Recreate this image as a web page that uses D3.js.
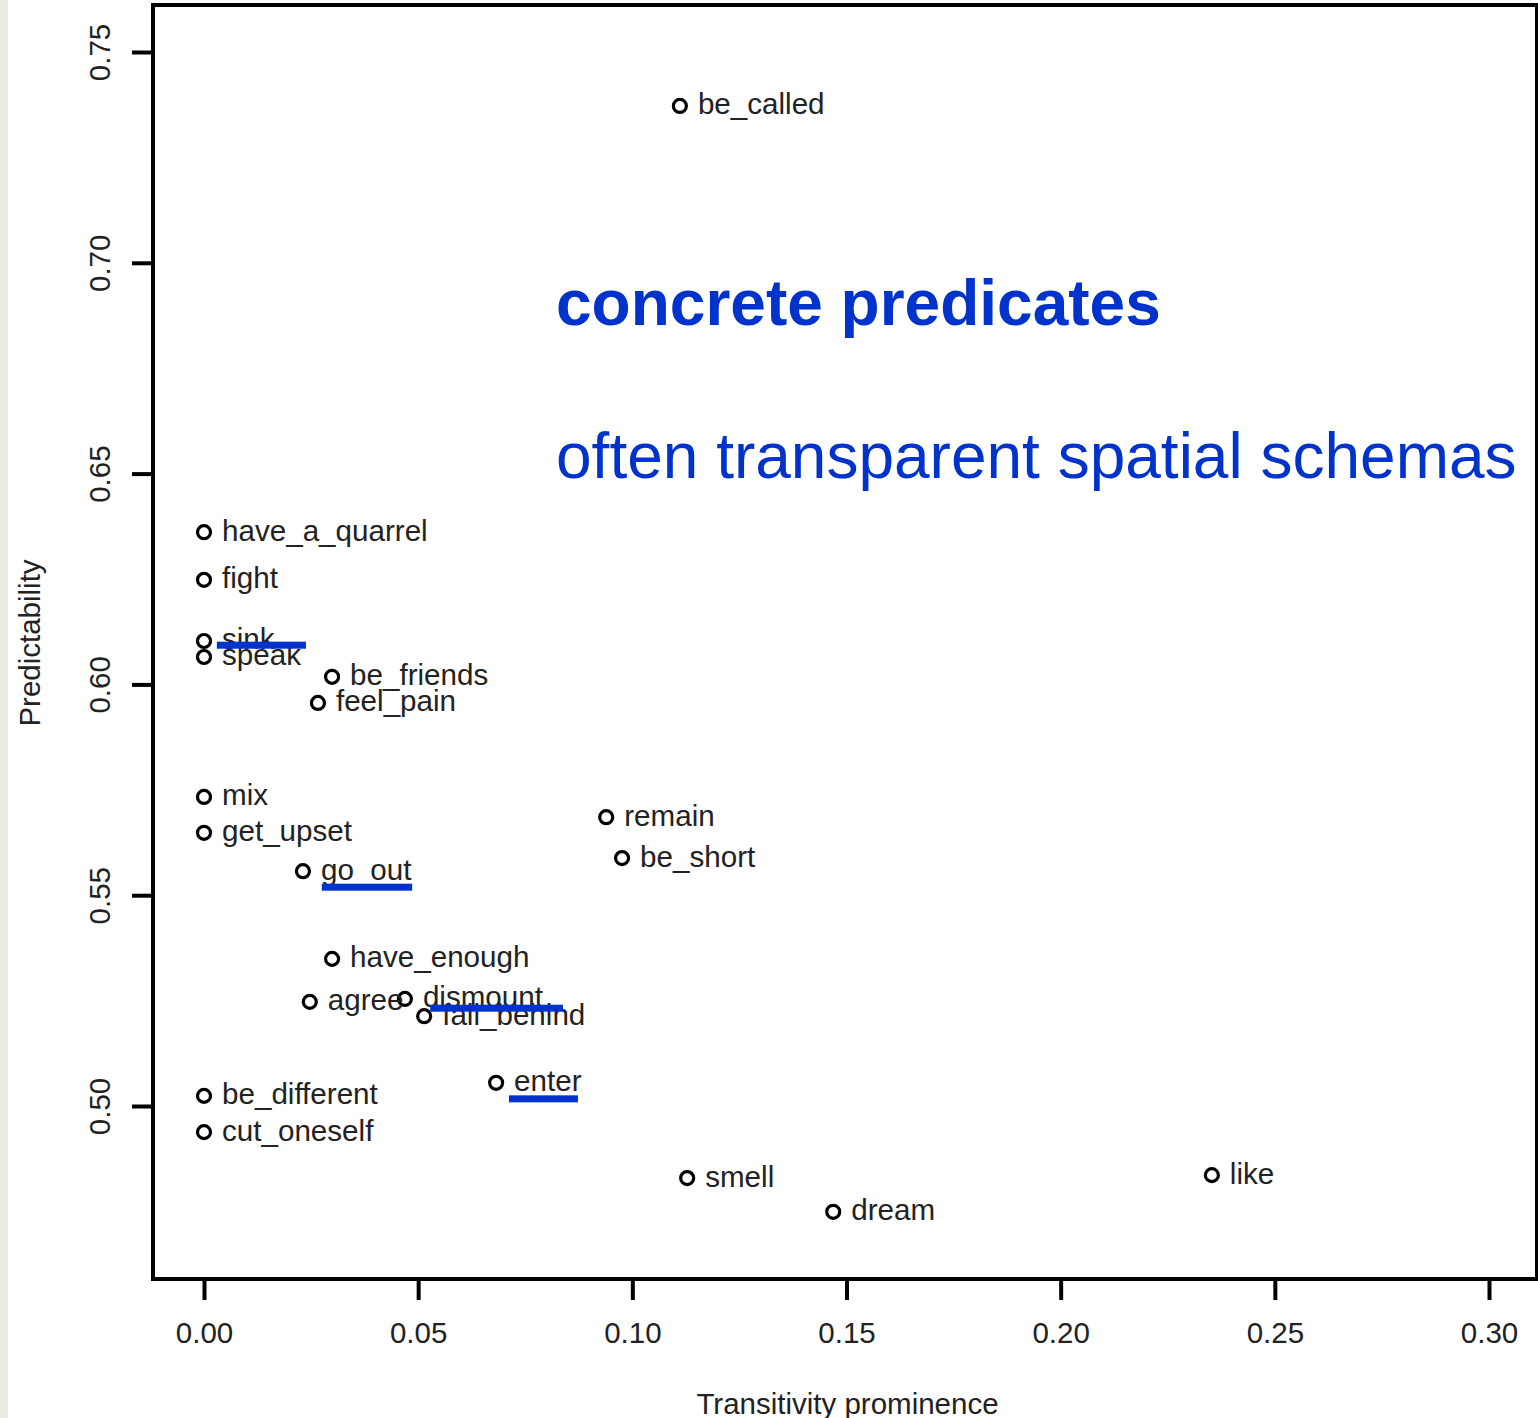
<!DOCTYPE html>
<html>
<head>
<meta charset="utf-8">
<script src="https://cdn.jsdelivr.net/npm/d3@7"></script>
<style>
  html, body { margin: 0; padding: 0; background: #fff; }
  svg { display: block; }
  text { font-family: "Liberation Sans", Arial, Helvetica, sans-serif; }
</style>
</head>
<body>
<svg id="chart" width="1538" height="1418"></svg>
<script>
// ---- data ----
const words = ["be_called","have_a_quarrel","fight","sink","speak","be_friends","feel_pain","mix","get_upset","go_out","remain","be_short","have_enough","agree","dismount","fall_behind","enter","be_different","cut_oneself","smell","dream","like"];
const transitivity = [0.1111,0,0,0,0,0.0299,0.0266,0,0,0.0231,0.0939,0.0976,0.0299,0.0247,0.0469,0.0514,0.0682,0,0,0.1128,0.1469,0.2353];
const predictability = [0.7372,0.6361,0.6248,0.6103,0.6065,0.6018,0.5956,0.5733,0.5648,0.5557,0.5685,0.5588,0.5349,0.5247,0.5254,0.5213,0.5055,0.5024,0.4938,0.4829,0.4749,0.4836];
const xTicks = [0.00,0.05,0.10,0.15,0.20,0.25,0.30];
const yTicks = [0.50,0.55,0.60,0.65,0.70,0.75];
// highlighted (underlined / struck) words: data-space extent of the blue bars
const markWords = ["sink","go_out","dismount","enter"];
const markX0 = [0.0030,0.0275,0.0528,0.0712];
const markX1 = [0.0238,0.0486,0.0838,0.0873];
const markY  = [0.6093,0.5519,0.5232,0.5017];
const annotations = ["concrete predicates","often transparent spatial schemas"];

const svg = d3.select("#chart");
const W = 1538, H = 1418;
const blue = "#0033cc";
const ink = "#222";

// background strip on the left
svg.append("rect").attr("x",0).attr("y",0).attr("width",W).attr("height",H).attr("fill","#fff");
svg.append("rect").attr("x",0).attr("y",0).attr("width",8).attr("height",H).attr("fill","#eeebe4");

const x = d3.scaleLinear().domain([0,0.30]).range([204,1489]);
const y = d3.scaleLinear().domain([0.50,0.75]).range([1106,52]);

const box = {left:153, top:5, right:1537, bottom:1279};

// frame
svg.append("rect")
  .attr("x",box.left).attr("y",box.top)
  .attr("width",box.right-box.left).attr("height",box.bottom-box.top)
  .attr("fill","none").attr("stroke","#000").attr("stroke-width",4);

// x axis
const xAxis = d3.axisBottom(x).tickValues(xTicks).tickFormat(d3.format(".2f")).tickSize(20).tickPadding(22);
const gx = svg.append("g").attr("transform",`translate(0,${box.bottom+1})`).call(xAxis);
gx.select(".domain").remove();
gx.selectAll(".tick line").attr("stroke","#000").attr("stroke-width",4);
gx.selectAll(".tick text").attr("font-size",29.5).attr("fill",ink)
  .attr("font-family","Liberation Sans, Arial, sans-serif");

// y axis
const yAxis = d3.axisLeft(y).tickValues(yTicks).tickFormat(d3.format(".2f")).tickSize(20).tickPadding(0);
const gy = svg.append("g").attr("transform",`translate(${box.left-1},0)`).call(yAxis);
gy.select(".domain").remove();
gy.selectAll(".tick line").attr("stroke","#000").attr("stroke-width",4);
gy.selectAll(".tick text")
  .attr("font-size",29.5).attr("fill",ink)
  .attr("font-family","Liberation Sans, Arial, sans-serif")
  .attr("x",null).attr("dy",null)
  .attr("text-anchor","middle")
  .attr("transform","translate(-42,0) rotate(-90)");

// axis titles
svg.append("text").attr("x",(x(0)+x(0.30))/2 + 1).attr("y",1414)
  .attr("text-anchor","middle").attr("font-size",29.5).attr("fill",ink)
  .text("Transitivity prominence");
svg.append("text").attr("transform",`translate(40,${643}) rotate(-90)`)
  .attr("text-anchor","middle").attr("font-size",29.5).attr("fill",ink)
  .text("Predictability");

// points
const pts = words.map((w,i)=>({w, tx:transitivity[i], py:predictability[i]}));
const g = svg.append("g");
g.selectAll("circle").data(pts).enter().append("circle")
  .attr("cx",d=>x(d.tx)).attr("cy",d=>y(d.py)).attr("r",6.5)
  .attr("fill","none").attr("stroke","#000").attr("stroke-width",3.2);
g.selectAll("text").data(pts).enter().append("text")
  .attr("x",d=>x(d.tx)+18).attr("y",d=>y(d.py)+8.5)
  .attr("font-size",29.6).attr("fill",ink)
  .text(d=>d.w);

// blue marker bars
const marks = markWords.map((w,i)=>({w, x0:markX0[i], x1:markX1[i], yv:markY[i]}));
svg.append("g").selectAll("rect").data(marks).enter().append("rect")
  .attr("x",d=>x(d.x0)).attr("y",d=>y(d.yv)-3.5)
  .attr("width",d=>x(d.x1)-x(d.x0)).attr("height",7)
  .attr("fill",blue);

// annotations
svg.append("text").attr("x",556).attr("y",325)
  .attr("font-size",64).attr("font-weight","bold").attr("fill",blue)
  .text(annotations[0]);
svg.append("text").attr("x",556).attr("y",478)
  .attr("font-size",64).attr("fill",blue)
  .text(annotations[1]);
</script>
</body>
</html>
